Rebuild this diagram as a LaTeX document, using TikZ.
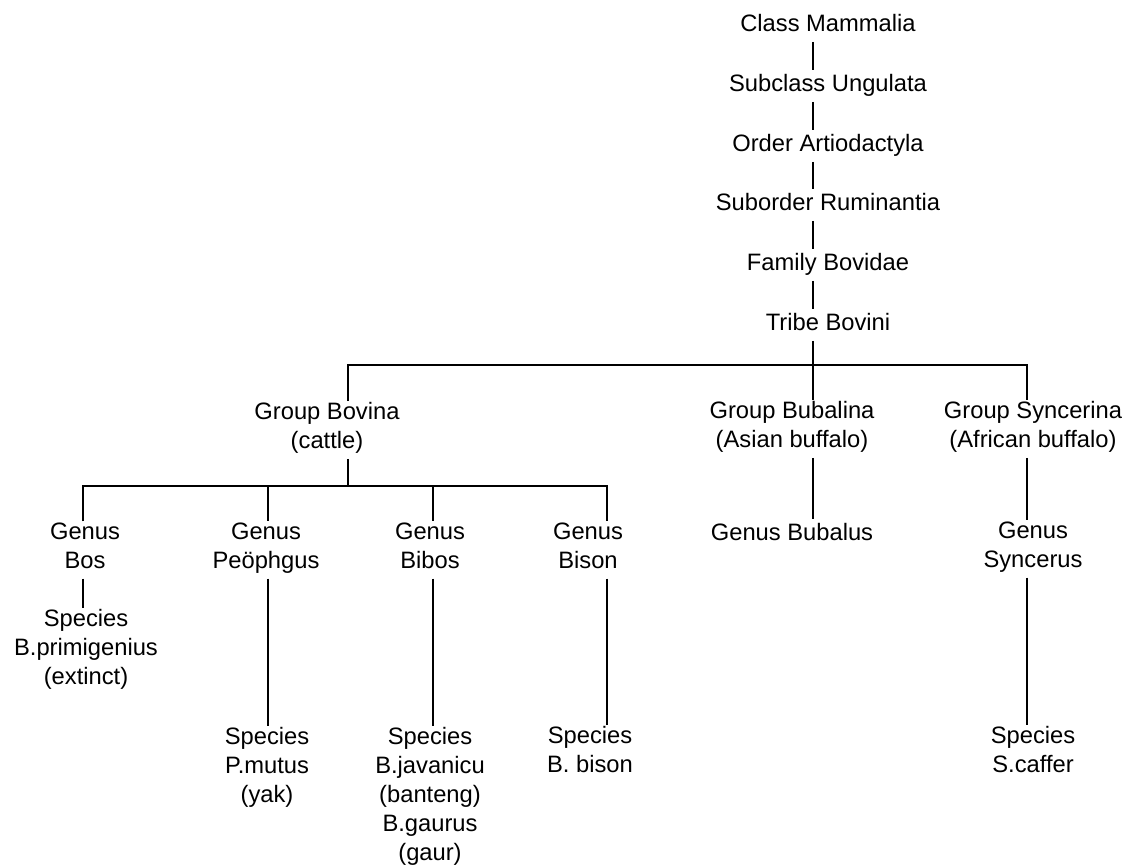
\documentclass[tikz,border=0pt]{standalone}
\usepackage{fontspec}
\setmainfont{Liberation Sans}
\tikzset{every picture/.style={line width=1.1pt}}
\tikzset{taxon/.style={inner sep=0.5pt, align=center, font=\fontsize{17.8}{21.75}\selectfont, execute at begin node=\strut, execute at end node=\strut}}

\begin{document}
\begin{tikzpicture}[x=0.75pt,y=0.75pt,yscale=-1,xscale=1]
\useasboundingbox (0,0) rectangle (1127,867);

% Text Node
\node[taxon] (mammalia) at (828,26) {Class Mammalia};
\node[taxon] (ungulata) at (828,86) {Subclass Ungulata};
\node[taxon] (artiodactyla) at (828,146) {Order Artiodactyla};
\node[taxon] (ruminantia) at (828,205) {Suborder Ruminantia};
\node[taxon] (bovidae) at (828,265) {Family Bovidae};
\node[taxon] (bovini) at (828,325) {Tribe Bovini};
% Text Node
\node[taxon] (bovina) at (327,430) {Group Bovina\\(cattle)};
\node[taxon] (bubalina) at (792,429) {Group Bubalina\\(Asian buffalo)};
\node[taxon] (syncerina) at (1033,429) {Group Syncerina\\(African buffalo)};
% Text Node
\node[taxon] (bos) at (85,550) {Genus\\Bos};
\node[taxon] (peophgus) at (266,550) {Genus\\Peöphgus};
\node[taxon] (bibos) at (430,550) {Genus\\Bibos};
\node[taxon] (bison) at (588,550) {Genus\\Bison};
\node[taxon] (bubalus) at (792,535) {Genus Bubalus};
\node[taxon] (syncerus) at (1033,549) {Genus\\Syncerus};
% Text Node
\node[taxon] (primigenius) at (86,651) {Species\\B.primigenius\\(extinct)};
\node[taxon] (mutus) at (267,769) {Species\\P.mutus\\(yak)};
\node[taxon] (javanicu) at (430,798) {Species\\B.javanicu\\(banteng)\\B.gaurus\\(gaur)};
\node[taxon] (bbison) at (590,754) {Species\\B. bison};
\node[taxon] (caffer) at (1033,754) {Species\\S.caffer};

% Coordinates of the bars
\coordinate (spine) at (813,0);
\coordinate (bovtop) at (348,365);
\coordinate (synctop) at (1027,365);
\coordinate (bosbar) at (83,486);
\coordinate (peobar) at (268,486);
\coordinate (bibbar) at (433,486);
\coordinate (bisbar) at (607,486);

%Straight Lines
\draw (mammalia.south -| spine) -- (ungulata.north -| spine);
\draw (ungulata.south -| spine) -- (artiodactyla.north -| spine);
\draw (artiodactyla.south -| spine) -- (ruminantia.north -| spine);
\draw (ruminantia.south -| spine) -- (bovidae.north -| spine);
\draw (bovidae.south -| spine) -- (bovini.north -| spine);
\draw (bovini.south -| spine) -- (bubalina.north -| spine);
\draw (bovina.north -| bovtop) -- (bovtop) -- (synctop) -- (syncerina.north -| synctop);
\draw (bubalina.south -| spine) -- (bubalus.north -| spine);
\draw (syncerina.south -| synctop) -- (syncerus.north -| synctop);
\draw (syncerus.south -| synctop) -- (caffer.north -| synctop);
%Straight Lines
\draw (bovina.south -| bovtop) -- (bovtop |- bosbar);
\draw (bos.north -| bosbar) -- (bosbar) -- (bisbar) -- (bison.north -| bisbar);
\draw (peobar) -- (peophgus.north -| peobar);
\draw (bibbar) -- (bibos.north -| bibbar);
\draw (bos.south -| bosbar) -- (primigenius.north -| bosbar);
\draw (peophgus.south -| peobar) -- (mutus.north -| peobar);
\draw (bibos.south -| bibbar) -- (javanicu.north -| bibbar);
\draw (bison.south -| bisbar) -- (bbison.north -| bisbar);

\end{tikzpicture}
\end{document}
